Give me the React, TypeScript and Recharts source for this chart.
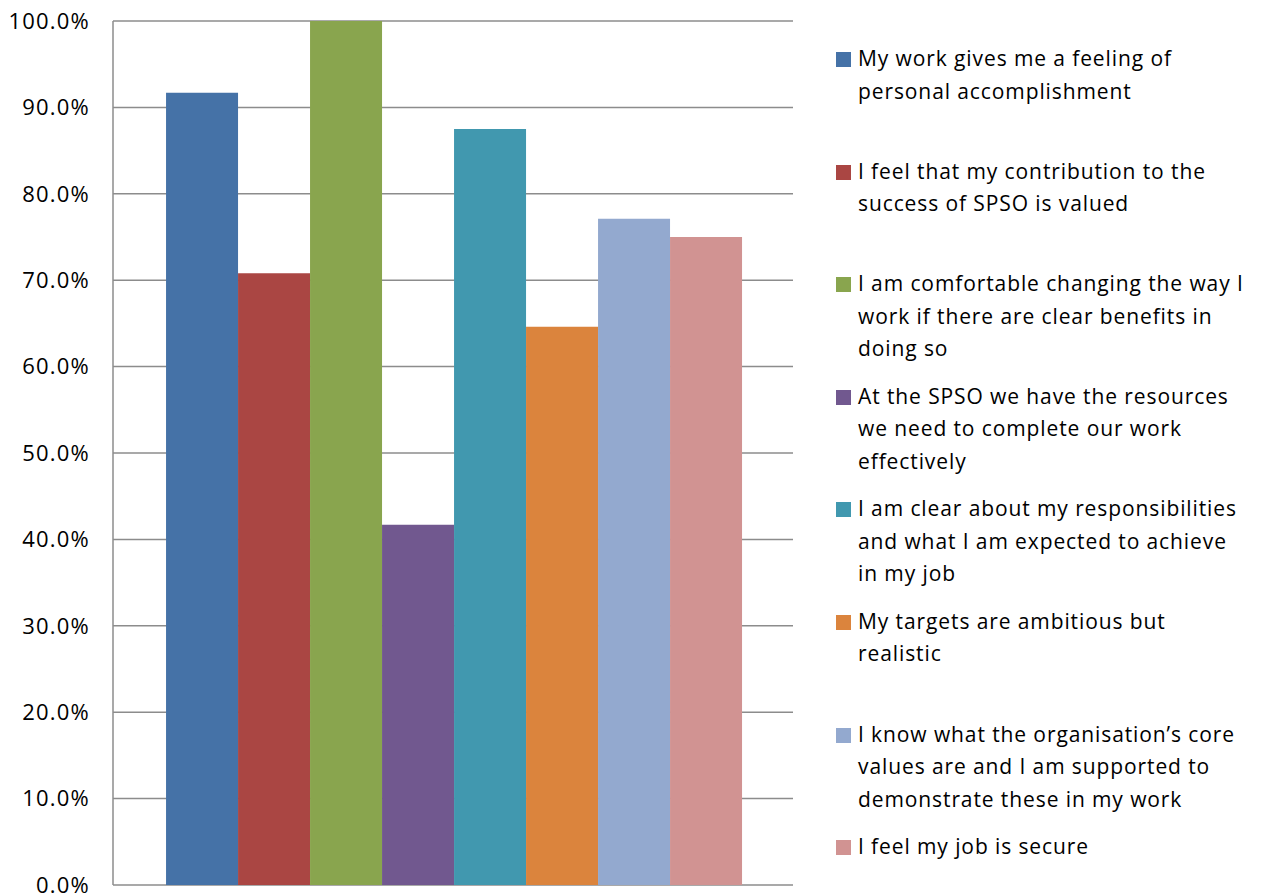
import { BarChart, Bar, XAxis, YAxis, CartesianGrid } from 'recharts';

// Survey statements, share agreeing (%) and series colours
const STATEMENTS = [
  ['My work gives me a feeling of', 'personal accomplishment'],
  ['I feel that my contribution to the', 'success of SPSO is valued'],
  ['I am comfortable changing the way I', 'work if there are clear benefits in', 'doing so'],
  ['At the SPSO we have the resources', 'we need to complete our work', 'effectively'],
  ['I am clear about my responsibilities', 'and what I am expected to achieve', 'in my job'],
  ['My targets are ambitious but', 'realistic'],
  ['I know what the organisation\u2019s core', 'values are and I am supported to', 'demonstrate these in my work'],
  ['I feel my job is secure'],
];

const AGREE_PCT = [91.7, 70.8, 100, 41.7, 87.5, 64.6, 77.1, 75.0];

const COLORS = [
  '#4572A7', '#AA4643', '#89A54E', '#71588F',
  '#4198AF', '#DB843D', '#93A9CF', '#D19392',
];

const Y_TICKS = [0, 10, 20, 30, 40, 50, 60, 70, 80, 90, 100];

const KEYS = STATEMENTS.map((_, i) => `s${i}`);

const row: Record<string, number | string> = { name: 'All staff' };
KEYS.forEach((k, i) => { row[k] = AGREE_PCT[i]; });
const data = [row];

const GRID = '#8C8C8C';
const FONT = "'Open Sans', sans-serif";

function SideLegend() {
  return (
    <div style={{ position: 'absolute', left: 836, top: 42, fontFamily: FONT, fontSize: 21, letterSpacing: 0.9, color: '#000' }}>
      {STATEMENTS.map((lines, i) => (
        <div key={i} style={{ position: 'relative', height: 112.6 }}>
          <div style={{ position: 'absolute', left: 0, top: 10, width: 15, height: 15, background: COLORS[i] }} />
          <div style={{ position: 'absolute', left: 22, top: 0, lineHeight: '32.5px', whiteSpace: 'nowrap' }}>
            {lines.map((l, j) => <div key={j}>{l}</div>)}
          </div>
        </div>
      ))}
    </div>
  );
}

export default function App() {
  return (
    <div style={{ position: 'absolute', left: 0, top: 0, width: 1262, height: 894, background: '#fff' }}>
      <BarChart
        width={1262}
        height={894}
        data={data}
        margin={{ top: 21, right: 469, left: 0, bottom: 9 }}
        barCategoryGap="7.8%"
        barGap={0}
      >
        <CartesianGrid vertical={false} stroke={GRID} strokeWidth={1.5} />
        <XAxis dataKey="name" tick={false} height={0} axisLine={{ stroke: GRID, strokeWidth: 1.5 }} tickLine={false} />
        <YAxis
          width={113}
          domain={[0, 100]}
          ticks={Y_TICKS}
          interval={0}
          tickFormatter={(v: number) => `${v.toFixed(1)}%`}
          tick={{ fontSize: 22, fontFamily: FONT, fill: '#000', letterSpacing: 1.2 } as any}
          axisLine={{ stroke: GRID, strokeWidth: 1.5 }}
          tickLine={false}
          tickSize={6}
          tickMargin={17}
        />
        {KEYS.map((k, i) => (
          <Bar key={k} dataKey={k} fill={COLORS[i]} isAnimationActive={false} />
        ))}
      </BarChart>
      <SideLegend />
    </div>
  );
}
